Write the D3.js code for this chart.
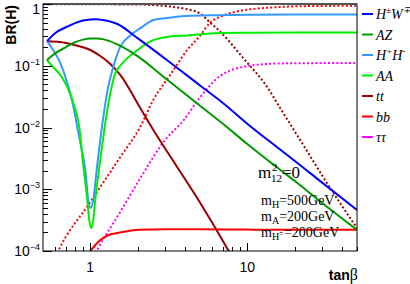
<!DOCTYPE html>
<html lang="en">
<head>
<meta charset="UTF-8">
<title>BR(H) vs tan beta</title>
<script src="https://d3js.org/d3.v7.min.js"></script>
<style>
  body { margin: 0; background: #fff; }
  text { font-family: "Liberation Sans", Arial, sans-serif; }
  .serif { font-family: "Liberation Serif", "Times New Roman", serif; }
</style>
</head>
<body>
<div id="chart"></div>
<script>
// BR values, as [tanBeta, BR] pairs
const brHW = [[0.53,0.25],[0.6,0.34],[0.7,0.42],[0.8,0.49],[0.9,0.54],[1,0.56],[1.1,0.565],[1.2,0.55],[1.5,0.47],[2,0.28],[3,0.13],[5,0.048],[7,0.025],[10,0.0115],[15,0.0051],[20,0.0029],[30,0.00128],[50,0.00046]];
const brAZ = [[0.53,0.124],[0.6,0.16],[0.7,0.2],[0.8,0.24],[0.9,0.265],[1,0.276],[1.1,0.275],[1.2,0.27],[1.5,0.22],[2,0.143],[3,0.063],[5,0.0225],[7,0.0115],[10,0.0054],[15,0.0024],[20,0.00137],[30,0.0006],[50,0.00022]];
const brHpHm = [[0.53,0.25],[0.58,0.18],[0.644,0.111],[0.714,0.0525],[0.78,0.022],[0.826,0.0102],[0.88,0.0045],[0.929,0.0021],[0.971,0.00067],[1.005,0.0005],[1.045,0.00067],[1.1,0.0021],[1.187,0.0102],[1.3,0.045],[1.4,0.095],[1.55,0.2],[1.8,0.31],[2.1,0.41],[2.52,0.55],[3,0.59],[4.1,0.64],[6.7,0.66],[10,0.672],[20,0.676],[50,0.676]];
const brAA = [[0.53,0.124],[0.58,0.095],[0.644,0.071],[0.714,0.045],[0.78,0.025],[0.864,0.0075],[0.889,0.0035],[0.957,0.00067],[0.985,0.00032],[1.015,0.000235],[1.045,0.00032],[1.076,0.00067],[1.158,0.003],[1.283,0.019],[1.443,0.076],[1.553,0.10],[2,0.18],[2.52,0.26],[3,0.29],[4.15,0.31],[6.7,0.34],[10,0.343],[20,0.345],[50,0.345]];
const brTT = [[0.53,0.25],[0.644,0.243],[0.8,0.215],[1,0.18],[1.158,0.144],[1.3,0.115],[1.553,0.071],[2.08,0.0207],[2.71,0.0068],[3.5,0.0025],[5.02,0.0006],[7.55,0.000104],[8,0.00008]];
const brBB = [[1,0.0001],[1.158,0.00015],[1.3,0.00018],[1.49,0.000195],[2.08,0.00022],[3,0.000225],[5,0.000225],[10,0.000222],[20,0.00022],[50,0.00022]];
const brTTdot = [[0.5,0.995],[1,0.99],[1.5,0.985],[2.08,0.98],[2.52,0.96],[3.23,0.91],[4.15,0.82],[5.02,0.7],[5.8,0.5],[6.7,0.36],[9.4,0.134],[13.4,0.045],[16.2,0.0207],[21.7,0.0063],[33.7,0.00105],[50,0.000235]];
const brBBdot = [[0.6,0.00008],[0.625,0.0001],[1,0.00062],[1.55,0.0033],[2.08,0.0102],[2.52,0.028],[3.23,0.071],[4.15,0.18],[5.02,0.31],[5.8,0.5],[6.7,0.62],[8.1,0.73],[10.4,0.82],[14.6,0.88],[21.7,0.92],[50,0.94]];
const brTauDot = [[1.05,0.00008],[1.108,0.000104],[1.553,0.00043],[2.08,0.0015],[3.0,0.0063],[3.9,0.0128],[5.02,0.031],[6.7,0.068],[10.4,0.1],[16.2,0.109],[50,0.111]];

const xTickLabels = [1, 10];
const yTickLabels = [1e-4, 1e-3, 1e-2, 1e-1, 1];

// legend entries: text pieces, "sup" marks a superscript
const legendItems = [
  { parts: [["H",""],["±","sup"],["W",""],["∓","sup"]], color: "#0000ff" },
  { parts: [["AZ",""]], color: "#009900" },
  { parts: [["H",""],["+","sup"],["H",""],["-","sup"]], color: "#3399ff" },
  { parts: [["AA",""]], color: "#00ee00" },
  { parts: [["tt",""]], color: "#990000" },
  { parts: [["bb",""]], color: "#ff0000" },
  { parts: [["ττ",""]], color: "#ff00ff" }
];

const W = 410, H = 284;
const plot = { left: 43, right: 357, top: 4, bottom: 251 };

const svg = d3.select("#chart").append("svg")
  .attr("width", W).attr("height", H);

const x = d3.scaleLog().domain([0.5, 50]).range([plot.left, plot.right]);
const y = d3.scaleLog().domain([1e-4, 1]).range([plot.bottom, plot.top]);

svg.append("clipPath").attr("id", "clip")
  .append("rect")
  .attr("x", plot.left).attr("y", plot.top)
  .attr("width", plot.right - plot.left).attr("height", plot.bottom - plot.top);

const line = d3.line()
  .x(d => x(d[0]))
  .y(d => y(d[1]))
  .curve(d3.curveMonotoneX);

const g = svg.append("g").attr("clip-path", "url(#clip)");

const series = [
  { data: brTTdot, color: "#990000", dot: true },
  { data: brBBdot, color: "#ff0000", dot: true },
  { data: brTauDot, color: "#ff00ff", dot: true },
  { data: brBB, color: "#ff0000" },
  { data: brTT, color: "#990000" },
  { data: brHpHm, color: "#3399ff" },
  { data: brAA, color: "#00ee00" },
  { data: brAZ, color: "#009900" },
  { data: brHW, color: "#0000ff" }
];

g.selectAll("path.curve")
  .data(series)
  .join("path")
  .attr("class", "curve")
  .attr("d", d => line(d.data))
  .attr("fill", "none")
  .attr("stroke", d => d.color)
  .attr("stroke-width", 2)
  .attr("stroke-dasharray", d => d.dot ? "2,2.2" : null);

// frame
svg.append("rect")
  .attr("x", plot.left).attr("y", plot.top)
  .attr("width", plot.right - plot.left).attr("height", plot.bottom - plot.top)
  .attr("fill", "none").attr("stroke", "#000").attr("stroke-width", 1);
svg.append("line")
  .attr("x1", plot.left).attr("x2", plot.right)
  .attr("y1", plot.top).attr("y2", plot.top)
  .attr("stroke", "#555").attr("stroke-width", 2);

// y axis ticks (inward)
const yTicks = [];
for (let e = -4; e < 0; e++) {
  for (let m = 1; m < 10; m++) yTicks.push({ v: m * Math.pow(10, e), major: m === 1 });
}
yTicks.push({ v: 1, major: true });
svg.append("g").selectAll("line")
  .data(yTicks)
  .join("line")
  .attr("x1", plot.left).attr("x2", d => plot.left + (d.major ? 9 : 5))
  .attr("y1", d => Math.round(y(d.v)) + 0.5).attr("y2", d => Math.round(y(d.v)) + 0.5)
  .attr("stroke", "#000").attr("stroke-width", 1);

// x axis ticks (inward)
const xTicks = [];
[0.6, 0.7, 0.8, 0.9].forEach(v => xTicks.push({ v, major: false }));
xTicks.push({ v: 1, major: true });
for (let m = 2; m < 10; m++) xTicks.push({ v: m, major: false });
xTicks.push({ v: 10, major: true });
[20, 30, 40, 50].forEach(v => xTicks.push({ v, major: false }));
svg.append("g").selectAll("line")
  .data(xTicks)
  .join("line")
  .attr("x1", d => Math.round(x(d.v)) + 0.5).attr("x2", d => Math.round(x(d.v)) + 0.5)
  .attr("y1", plot.bottom).attr("y2", d => plot.bottom - (d.major ? 8 : 4))
  .attr("stroke", "#000").attr("stroke-width", 1);

// y tick labels
const yl = svg.append("g").selectAll("text")
  .data(yTickLabels)
  .join("text")
  .attr("x", 40)
  .attr("y", d => d === 1 ? 14 : y(d) + 5)
  .attr("text-anchor", "end")
  .attr("font-size", 14);
yl.each(function (d) {
  const t = d3.select(this);
  if (d === 1) { t.text("1"); return; }
  t.append("tspan").text("10");
  t.append("tspan").attr("font-size", 9).attr("dy", -6).text("−" + Math.round(-Math.log10(d)));
});

// x tick labels
svg.append("g").selectAll("text")
  .data(xTickLabels)
  .join("text")
  .attr("x", d => x(d))
  .attr("y", 272)
  .attr("text-anchor", "middle")
  .attr("font-size", 14)
  .text(d => d);

// axis titles
svg.append("text")
  .attr("transform", "translate(16,5) rotate(-90)")
  .attr("text-anchor", "end")
  .attr("font-size", 14).attr("font-weight", "bold")
  .text("BR(H)");

const xt = svg.append("text")
  .attr("x", 358).attr("y", 280)
  .attr("text-anchor", "end")
  .attr("font-size", 14);
xt.append("tspan").attr("font-weight", "bold").text("tan");
xt.append("tspan").attr("class", "serif").attr("font-size", 16).text("β");

// legend
const leg = svg.append("g").selectAll("g")
  .data(legendItems)
  .join("g")
  .attr("transform", (d, i) => `translate(0,${14 + i * 20.5})`);
leg.append("line")
  .attr("x1", 362).attr("x2", 373)
  .attr("stroke", d => d.color).attr("stroke-width", 2);
leg.append("text")
  .attr("class", "serif")
  .attr("x", 376).attr("y", 5)
  .attr("font-size", 14).attr("font-style", "italic")
  .each(function (d) {
    const t = d3.select(this);
    let raised = false;
    d.parts.forEach(p => {
      const ts = t.append("tspan").text(p[0]);
      if (p[1] === "sup") {
        ts.attr("font-size", 9).attr("dy", -6);
        raised = true;
      } else if (raised) {
        ts.attr("dy", 6);
        raised = false;
      }
    });
  });

// parameter annotations
const ann = svg.append("g");
const a1 = ann.append("text").attr("class", "serif").attr("x", 258).attr("y", 178).attr("font-size", 17);
a1.append("tspan").text("m");
a1.append("tspan").attr("x", 272).attr("font-size", 11).attr("dy", -7).text("2");
a1.append("tspan").attr("x", 271).attr("font-size", 11).attr("dy", 11).text("12");
a1.append("tspan").attr("dy", -4).text("=0");

function massLabel(yy, sub, sup, val) {
  const t = ann.append("text").attr("class", "serif").attr("x", 261).attr("y", yy).attr("font-size", 14);
  t.append("tspan").text("m");
  t.append("tspan").attr("font-size", 10).attr("dy", 3).text(sub);
  if (sup) t.append("tspan").attr("font-size", 7).attr("dy", -5).text(sup);
  t.append("tspan").attr("dx", sup ? 1 : 0).attr("dy", sup ? 2 : -3).text("=" + val);
}
massLabel(205, "H", null, "500GeV");
massLabel(221, "A", null, "200GeV");
massLabel(237, "H", "±", "200GeV");
</script>
</body>
</html>
